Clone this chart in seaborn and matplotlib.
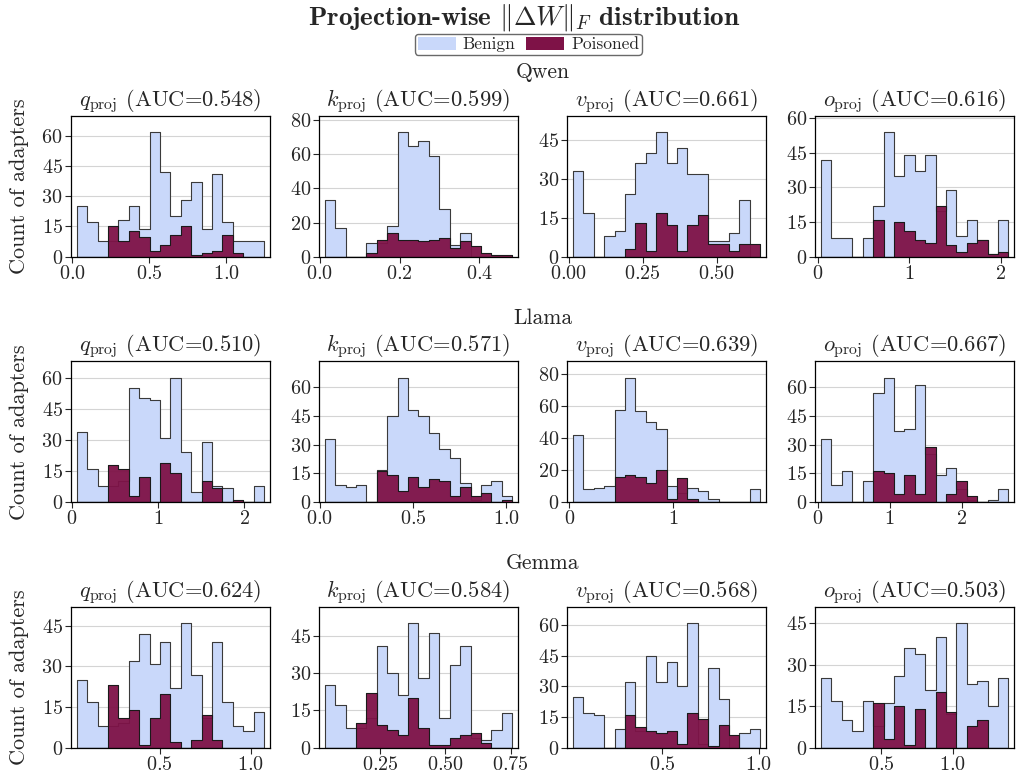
import numpy as np
import pandas as pd
import seaborn as sns
import matplotlib.pyplot as plt
from matplotlib.patches import Patch
from matplotlib.ticker import MaxNLocator

# Histogram counts (18 shared bins per panel)
projections = ['q', 'k', 'v', 'o']
models = ['Qwen', 'Llama', 'Gemma']

qwen_auc = [0.548, 0.599, 0.661, 0.616]
qwen_ranges = [(0.030, 1.246), (0.0125, 0.482), (0.0146, 0.647), (0.036, 2.084)]
qwen_benign = [
    [25, 17, 8, 8, 18, 25, 14, 62, 42, 20, 28, 37, 14, 41, 17, 8, 8, 8],
    [33, 17, 0, 0, 8, 8, 18, 73, 65, 68, 59, 28, 7, 14, 0, 0, 0, 0],
    [33, 17, 0, 8, 10, 24, 36, 40, 48, 36, 42, 32, 32, 6, 6, 9, 22, 0],
    [42, 8, 8, 0, 8, 22, 54, 35, 44, 37, 44, 20, 29, 9, 16, 7, 1, 16],
]
qwen_poisoned = [
    [0, 0, 0, 15, 8, 13, 10, 3, 6, 11, 15, 1, 2, 3, 11, 2, 0, 0],
    [0, 0, 0, 0, 2, 10, 14, 10, 10, 9, 10, 11, 5, 9, 6, 2, 1, 1],
    [0, 0, 0, 0, 0, 3, 13, 2, 17, 12, 2, 12, 16, 5, 5, 2, 5, 5],
    [0, 0, 0, 0, 0, 16, 0, 15, 11, 7, 6, 22, 5, 2, 6, 7, 1, 2],
]

llama_auc = [0.510, 0.571, 0.639, 0.667]
llama_ranges = [(0.054, 2.232), (0.027, 1.032), (0.035, 1.842), (0.046, 2.648)]
llama_benign = [
    [34, 16, 8, 8, 10, 55, 50, 49, 31, 60, 24, 5, 29, 8, 7, 0, 0, 8],
    [33, 9, 8, 9, 0, 17, 45, 65, 48, 45, 36, 28, 23, 10, 1, 9, 11, 3],
    [42, 8, 9, 10, 58, 78, 57, 50, 46, 10, 6, 9, 7, 2, 0, 0, 0, 8],
    [33, 9, 16, 0, 11, 57, 65, 37, 38, 61, 25, 14, 18, 7, 1, 0, 1, 7],
]
llama_poisoned = [
    [0, 0, 0, 18, 16, 3, 12, 0, 19, 14, 0, 0, 10, 7, 0, 1, 0, 0],
    [0, 0, 0, 0, 0, 16, 14, 6, 13, 8, 12, 11, 3, 8, 3, 5, 0, 1],
    [0, 0, 0, 0, 16, 17, 16, 12, 20, 2, 15, 2, 0, 0, 0, 0, 0, 0],
    [0, 0, 0, 0, 0, 16, 15, 4, 14, 4, 29, 0, 4, 11, 3, 0, 0, 0],
]

gemma_auc = [0.624, 0.584, 0.568, 0.503]
gemma_ranges = [(0.0456, 1.073), (0.0383, 0.755), (0.038, 1.007), (0.077, 1.390)]
gemma_benign = [
    [25, 17, 8, 8, 9, 32, 42, 31, 39, 22, 46, 27, 11, 39, 17, 8, 6, 13],
    [25, 17, 8, 8, 12, 41, 30, 21, 50, 28, 46, 12, 33, 41, 4, 3, 7, 14],
    [25, 17, 16, 0, 9, 32, 8, 45, 32, 42, 30, 61, 2, 39, 24, 0, 7, 9],
    [25, 17, 10, 6, 17, 8, 16, 26, 36, 34, 21, 40, 12, 45, 23, 24, 15, 25],
]
gemma_poisoned = [
    [0, 0, 0, 23, 11, 14, 1, 11, 20, 2, 0, 3, 12, 3, 0, 0, 0, 0],
    [0, 0, 0, 10, 22, 9, 7, 5, 20, 8, 1, 1, 4, 5, 6, 2, 0, 0],
    [0, 0, 0, 0, 0, 16, 10, 8, 7, 8, 2, 17, 14, 1, 11, 6, 0, 0],
    [0, 0, 0, 0, 0, 16, 3, 15, 1, 14, 0, 20, 13, 0, 8, 10, 0, 0],
]

benign_color = '#c9d8fa'
poison_color = '#7e1247'

sns.set_theme(style='ticks')
plt.rcParams['font.family'] = 'serif'
plt.rcParams['font.serif'] = ['cmr10']
plt.rcParams['mathtext.fontset'] = 'cm'
plt.rcParams['axes.formatter.use_mathtext'] = True
plt.rcParams['axes.unicode_minus'] = False

fig, axes = plt.subplots(3, 4, figsize=(10.16, 7.78), dpi=100)
fig.subplots_adjust(left=0.070, right=0.998, top=0.851, bottom=0.039,
                    wspace=0.25, hspace=0.745)

model_data = [
    (qwen_auc, qwen_ranges, qwen_benign, qwen_poisoned),
    (llama_auc, llama_ranges, llama_benign, llama_poisoned),
    (gemma_auc, gemma_ranges, gemma_benign, gemma_poisoned),
]

for r, (aucs, ranges, benign, poisoned) in enumerate(model_data):
    for c in range(4):
        ax = axes[r, c]
        edges = np.linspace(ranges[c][0], ranges[c][1], len(benign[c]) + 1)
        df = pd.DataFrame({'value': (edges[:-1] + edges[1:]) / 2,
                           'benign': benign[c], 'poisoned': poisoned[c]})
        ax.grid(axis='y', color='#d4d4d4', linewidth=0.8, zorder=0)
        ax.set_axisbelow(True)
        sns.histplot(data=df, x='value', weights='benign', bins=edges.tolist(),
                     element='step', color=benign_color, alpha=1.0,
                     edgecolor='#3a3a3a', linewidth=0.8, ax=ax)
        sns.histplot(data=df, x='value', weights='poisoned', bins=edges.tolist(),
                     element='step', color=poison_color, alpha=0.95,
                     edgecolor='#1a1a1a', linewidth=0.8, ax=ax)
        ax.margins(x=0.03)
        ymax = max(max(benign[c]), max(poisoned[c]))
        ax.set_ylim(0, ymax * 1.13)
        ax.xaxis.set_major_locator(MaxNLocator(nbins=3, steps=[1, 2, 2.5, 5, 10]))
        ax.yaxis.set_major_locator(MaxNLocator(nbins=5))
        ax.tick_params(labelsize=14.5, length=4, width=0.8, pad=2)
        for sp in ax.spines.values():
            sp.set_linewidth(0.9)
            sp.set_color('black')
        ax.set_title(r'$%s_{\mathrm{proj}}$ (AUC=%.3f)' % (projections[c], aucs[c]),
                     fontsize=16.2, pad=5)
        ax.set_xlabel('')
        if c == 0:
            ax.set_ylabel('Count of adapters', fontsize=16, labelpad=9)
        else:
            ax.set_ylabel('')

row_y = [0.9075, 0.591, 0.276]
for name, y in zip(models, row_y):
    fig.text(0.534, y, name, ha='center', va='center', fontsize=15.5)

fig.suptitle(r'Projection-wise $\|\Delta W\|_F$ distribution', x=0.516, y=0.997,
             fontsize=19.5, family='cmb10')

handles = [Patch(facecolor=benign_color, edgecolor='none'),
           Patch(facecolor=poison_color, edgecolor='none')]
fig.legend(handles, ['Benign', 'Poisoned'], loc='center', bbox_to_anchor=(0.52, 0.943),
           ncol=2, fontsize=12.5, frameon=True, edgecolor='#444444', fancybox=True,
           borderpad=0.15, handlelength=2.2, handleheight=0.8, columnspacing=0.6,
           handletextpad=0.4, borderaxespad=0.2)

plt.savefig('out.png', dpi=100)
